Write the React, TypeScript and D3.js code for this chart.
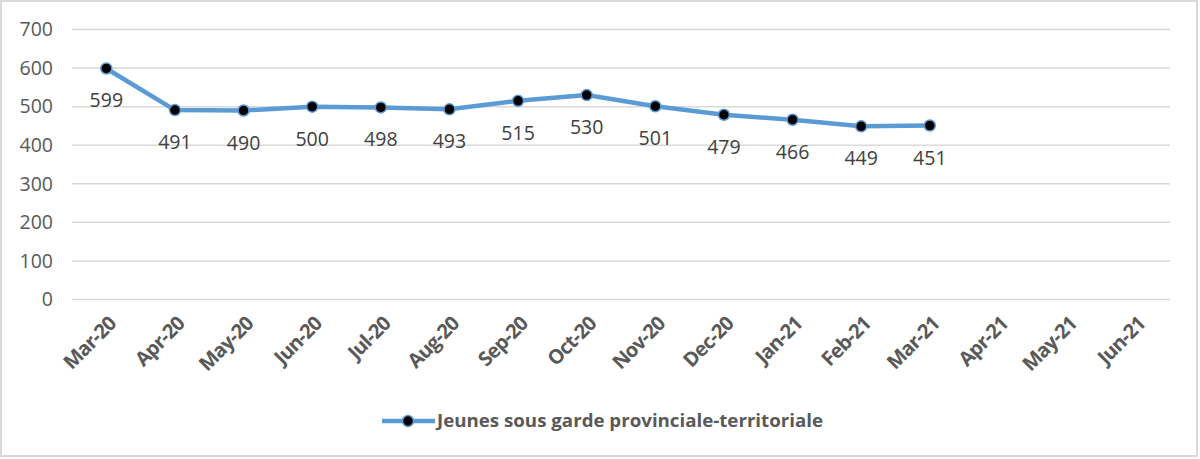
import React from 'react';
import * as d3 from 'd3';

// months on the category axis
const months = [
  'Mar-20', 'Apr-20', 'May-20', 'Jun-20', 'Jul-20', 'Aug-20', 'Sep-20', 'Oct-20',
  'Nov-20', 'Dec-20', 'Jan-21', 'Feb-21', 'Mar-21', 'Apr-21', 'May-21', 'Jun-21',
];
// youth in provincial-territorial custody (only first 13 months known)
const youth = [599, 491, 490, 500, 498, 493, 515, 530, 501, 479, 466, 449, 451];
const yTicks = [0, 100, 200, 300, 400, 500, 600, 700];
const seriesName = 'Jeunes sous garde provinciale-territoriale';

const W = 1200;
const H = 459;
const margin = { top: 29.5, right: 30, bottom: 159.5, left: 72 };

const App = () => {
  const x = d3.scaleBand().domain(months).range([margin.left, W - margin.right]);
  const y = d3.scaleLinear().domain([0, 700]).range([H - margin.bottom, margin.top]);
  const cx = (m: string) => (x(m) || 0) + x.bandwidth() / 2;

  const pts = youth.map((v, i) => ({ m: months[i], v }));
  const line = d3.line<{ m: string; v: number }>().x(d => cx(d.m)).y(d => y(d.v));

  const font = '"Open Sans", sans-serif';
  const grey = '#595959';

  return (
    <svg width={W} height={H} style={{ position: 'absolute', left: 0, top: 0 }} fontFamily={font}>
      <rect x={0} y={0} width={W} height={H} fill="#fff" />
      <rect x={1} y={1} width={W - 4} height={H - 4} fill="none" stroke="#d9d9d9" strokeWidth={2} />

      {/* grid + y labels */}
      {yTicks.map(t => (
        <g key={t}>
          <line x1={margin.left} x2={W - margin.right} y1={y(t)} y2={y(t)} stroke="#d9d9d9" strokeWidth={1.5} />
          <text x={53} y={y(t)} dy="0.35em" textAnchor="end" fontSize={19.5} fill={grey}>{t}</text>
        </g>
      ))}

      {/* x labels */}
      {months.map(m => (
        <text key={m} transform={`translate(${cx(m) + 6},${320}) rotate(-45)`} dy="0.35em"
          textAnchor="end" fontSize={20} fontWeight="bold" fill={grey}
          letterSpacing={-0.8}>{m}</text>
      ))}

      {/* series */}
      <path d={line(pts) || ''} fill="none" stroke="#5b9bd5" strokeWidth={4.5} strokeLinejoin="round" />
      {pts.map(p => (
        <circle key={p.m} cx={cx(p.m)} cy={y(p.v)} r={5.5} fill="#000" stroke="#5b9bd5" strokeWidth={1.5} />
      ))}
      {pts.map(p => (
        <text key={'l' + p.m} x={cx(p.m)} y={y(p.v) + 39} textAnchor="middle" fontSize={19.5} fill="#404040">{p.v}</text>
      ))}

      {/* legend */}
      <line x1={382} x2={435} y1={421} y2={421} stroke="#5b9bd5" strokeWidth={4.5} />
      <circle cx={408} cy={421} r={5.5} fill="#000" stroke="#5b9bd5" strokeWidth={1.5} />
      <text x={437} y={421} dy="0.35em" fontSize={18.5} fontWeight="bold" fill={grey}
        textLength={386} lengthAdjust="spacingAndGlyphs">{seriesName}</text>
    </svg>
  );
};

export default App;
